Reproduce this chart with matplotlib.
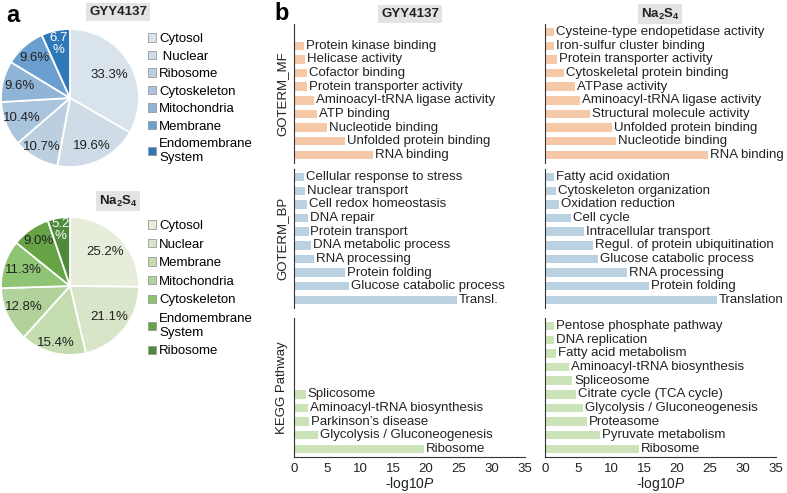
import numpy as np
import matplotlib
matplotlib.use('Agg')
import matplotlib.pyplot as plt
from matplotlib.patches import Patch

plt.rcParams['font.family'] = ['Liberation Sans', 'DejaVu Sans']
plt.rcParams['mathtext.fontset'] = 'custom'
plt.rcParams['mathtext.rm'] = 'Liberation Sans'
plt.rcParams['mathtext.it'] = 'Liberation Sans:italic'
plt.rcParams['mathtext.bf'] = 'Liberation Sans:bold'

# ---------- data ----------
pie_gyy_labels = ['Cytosol', ' Nuclear', 'Ribosome', 'Cytoskeleton', 'Mitochondria',
                  'Membrane', 'Endomembrane\nSystem']
pie_gyy_values = [33.3, 19.6, 10.7, 10.4, 9.6, 9.6, 6.7]

pie_na_labels = ['Cytosol', 'Nuclear', 'Membrane', 'Mitochondria', 'Cytoskeleton',
                 'Endomembrane\nSystem', 'Ribosome']
pie_na_values = [25.2, 21.1, 15.4, 12.8, 11.3, 9.0, 5.2]

mf_gyy_terms = ['Protein kinase binding', 'Helicase activity', 'Cofactor binding',
                'Protein transporter activity', 'Aminoacyl-tRNA ligase activity',
                'ATP binding', 'Nucleotide binding', 'Unfolded protein binding', 'RNA binding']
mf_gyy_vals = [1.5, 1.7, 1.9, 2.0, 3.1, 3.5, 5.0, 7.8, 11.9]

mf_na_terms = ['Cysteine-type endopetidase activity', 'Iron-sulfur cluster binding',
               'Protein transporter activity', 'Cytoskeletal protein binding',
               'ATPase activity', 'Aminoacyl-tRNA ligase activity',
               'Structural molecule activity', 'Unfolded protein binding',
               'Nucleotide binding', 'RNA binding']
mf_na_vals = [1.3, 1.4, 1.8, 2.9, 4.6, 5.3, 6.8, 10.1, 10.8, 24.7]

bp_gyy_terms = ['Cellular response to stress', 'Nuclear transport', 'Cell redox homeostasis',
                'DNA repair', 'Protein transport', 'DNA metabolic process', 'RNA processing',
                'Protein folding', 'Glucose catabolic process', 'Transl.']
bp_gyy_vals = [1.5, 1.6, 1.9, 2.1, 2.2, 2.6, 3.1, 7.7, 8.3, 24.7]

bp_na_terms = ['Fatty acid oxidation', 'Cytoskeleton organization', 'Oxidation reduction',
               'Cell cycle', 'Intracellular transport', 'Regul. of protein ubiquitination',
               'Glucose catabolic process', 'RNA processing', 'Protein folding', 'Translation']
bp_na_vals = [1.4, 1.6, 2.1, 4.0, 5.9, 7.3, 8.1, 12.4, 15.7, 26.1]

kegg_gyy_terms = ['Splicosome', 'Aminoacyl-tRNA biosynthesis', 'Parkinson\u2019s disease',
                  'Glycolysis / Gluconeogenesis', 'Ribosome']
kegg_gyy_vals = [1.8, 2.1, 2.3, 3.7, 19.7]

kegg_na_terms = ['Pentose phosphate pathway', 'DNA replication', 'Fatty acid metabolism',
                 'Aminoacyl-tRNA biosynthesis', 'Spliceosome', 'Citrate cycle (TCA cycle)',
                 'Glycolysis / Gluconeogenesis', 'Proteasome', 'Pyruvate metabolism', 'Ribosome']
kegg_na_vals = [1.4, 1.4, 1.7, 3.7, 4.1, 4.7, 5.8, 6.4, 8.3, 14.3]

# ---------- style ----------
FS = 9.5
TXT = '#222222'
blues = ['#d9e3eb', '#cfdbe6', '#bccfe0', '#a9c4dc', '#8fb4d6', '#6a9fcf', '#2f78b8']
greens = ['#e6edda', '#d8e5c8', '#c5dcb0', '#b1d39b', '#8ec473', '#66a344', '#4d8a3c']
bar_colors = {'MF': '#f5c8a7', 'BP': '#b9d1e0', 'KEGG': '#cce2b8'}

W, H = 787, 493
fig = plt.figure(figsize=(W / 100, H / 100), dpi=100)


def fx(px):
    return px / W


def fy(py):
    return 1 - py / H


# ---------- panel a: pies ----------
def draw_pie(cx, cy, r, values, labels, colors, label_r, legend_top, spacing):
    ax = fig.add_axes([fx(cx - r), fy(cy + r), 2 * r / W, 2 * r / H])
    wedges, _ = ax.pie(values, colors=colors, startangle=90, counterclock=False,
                       wedgeprops=dict(edgecolor='white', linewidth=1.3))
    ax.set_xlim(-1, 1)
    ax.set_ylim(-1, 1)
    ax.set_aspect('auto')
    ax.axis('off')
    for i, (w, v) in enumerate(zip(wedges, values)):
        ang = np.deg2rad((w.theta1 + w.theta2) / 2)
        x, y = label_r[i] * np.cos(ang), label_r[i] * np.sin(ang)
        if i == len(values) - 1:
            # smallest slice: split label in white
            ax.text(x, y, f'{v:.1f}\n%', ha='center', va='center', fontsize=FS,
                    color='white', linespacing=1.0)
        else:
            ax.text(x, y, f'{v:.1f}%', ha='center', va='center', fontsize=FS, color=TXT)
    handles = [Patch(facecolor=c, edgecolor='#9a9a9a', linewidth=0.6) for c in colors]
    fig.legend(handles, labels, loc='upper left',
               bbox_to_anchor=(fx(148), fy(legend_top)), frameon=False,
               fontsize=FS, handlelength=0.6, handleheight=0.6,
               handletextpad=0.25, labelspacing=spacing, borderaxespad=0, borderpad=0)


draw_pie(70, 98, 69, pie_gyy_values, pie_gyy_labels, blues,
         [0.66, 0.77, 0.82, 0.76, 0.75, 0.78, 0.8], 33, 0.42)
draw_pie(70, 286, 69, pie_na_values, pie_na_labels, greens,
         [0.71, 0.73, 0.85, 0.74, 0.71, 0.8, 0.82], 220, 0.5)

hdr_box = dict(facecolor='#e3e3e3', edgecolor='none', pad=1.8)
fig.text(fx(118), fy(12), 'GYY4137', ha='center', va='center', fontsize=FS,
         fontweight='bold', color=TXT, bbox=hdr_box)
fig.text(fx(118), fy(201), r'$\mathbf{Na_2S_4}$', ha='center', va='center', fontsize=FS,
         color=TXT, bbox=hdr_box)
fig.text(fx(6), fy(16), 'a', ha='left', va='center', fontsize=17, fontweight='bold')
fig.text(fx(274), fy(14), 'b', ha='left', va='center', fontsize=17, fontweight='bold')

# ---------- panel b: bars ----------
col_x = [294, 545]
col_w = 231
rows = [(24, 'GOTERM_MF', 'MF'), (169, 'GOTERM_BP', 'BP'), (318, 'KEGG Pathway', 'KEGG')]
row_h = 139
bar_data = {
    ('MF', 0): (mf_gyy_terms, mf_gyy_vals), ('MF', 1): (mf_na_terms, mf_na_vals),
    ('BP', 0): (bp_gyy_terms, bp_gyy_vals), ('BP', 1): (bp_na_terms, bp_na_vals),
    ('KEGG', 0): (kegg_gyy_terms, kegg_gyy_vals), ('KEGG', 1): (kegg_na_terms, kegg_na_vals),
}

for ri, (top, ylabel, key) in enumerate(rows):
    for ci, x0 in enumerate(col_x):
        ax = fig.add_axes([fx(x0), fy(top + row_h), col_w / W, row_h / H])
        terms, vals = bar_data[(key, ci)]
        ypos = np.arange(len(terms))[::-1]
        ax.barh(ypos, vals, height=0.62, color=bar_colors[key])
        for y, v, t in zip(ypos, vals, terms):
            ax.text(v + 0.3, y, t, ha='left', va='center', fontsize=FS, color=TXT)
        ax.set_xlim(0, 35)
        ax.set_ylim(-0.6, 9.6)
        ax.set_yticks([])
        for s in ['top', 'right']:
            ax.spines[s].set_visible(False)
        ax.spines['left'].set_color('#333333')
        ax.spines['bottom'].set_color('#333333')
        if ci == 0:
            ax.set_ylabel(ylabel, fontsize=FS, color=TXT, labelpad=4)
        if key == 'KEGG':
            ax.set_xticks(np.arange(0, 36, 5))
            ax.tick_params(axis='x', length=0, pad=4, labelsize=FS, labelcolor=TXT)
            ax.set_xlabel(r'-log10$\mathit{P}$', fontsize=FS + 0.5, color=TXT, labelpad=0)
        else:
            ax.spines['bottom'].set_visible(False)
            ax.set_xticks([])

fig.text(fx(410), fy(14), 'GYY4137', ha='center', va='center', fontsize=FS,
         fontweight='bold', color=TXT, bbox=hdr_box)
fig.text(fx(660), fy(14), r'$\mathbf{Na_2S_4}$', ha='center', va='center', fontsize=FS,
         color=TXT, bbox=hdr_box)

fig.savefig('out.png', dpi=100)
